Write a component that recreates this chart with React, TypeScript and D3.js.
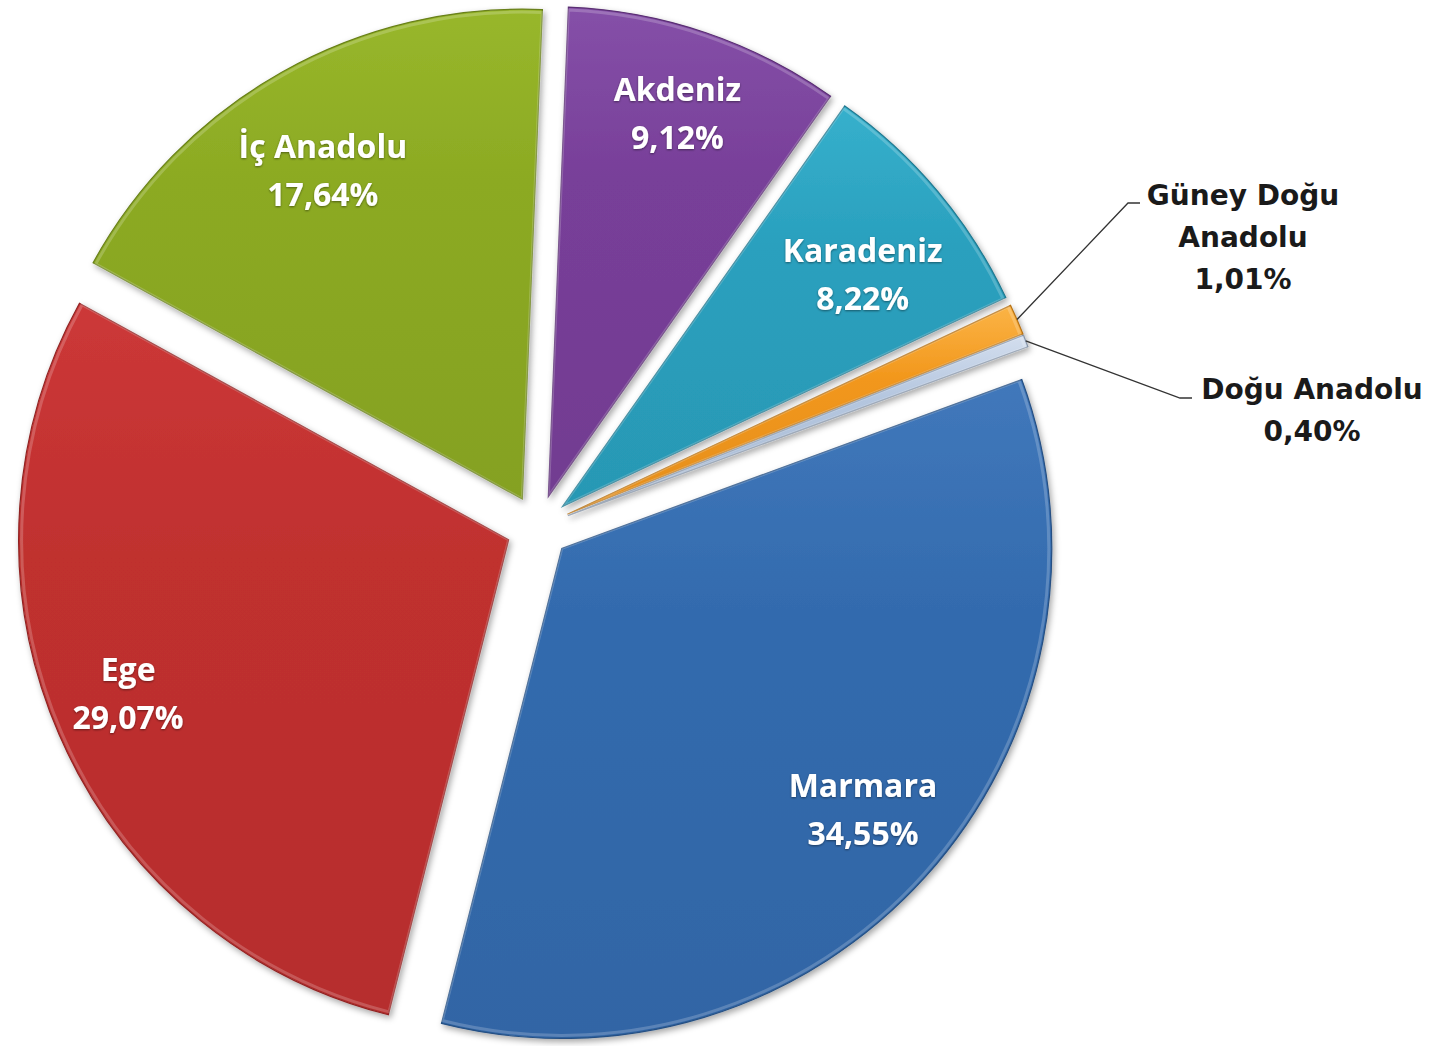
import React, { useEffect, useRef } from 'react';
import * as d3 from 'd3';

// regions, clockwise from 12 o'clock
const regions = ['Akdeniz', 'Karadeniz', 'Güney Doğu Anadolu', 'Doğu Anadolu', 'Marmara', 'Ege', 'İç Anadolu'];
const shares = [9.12, 8.22, 1.01, 0.4, 34.55, 29.07, 17.64];
const shareLabels = ['9,12%', '8,22%', '1,01%', '0,40%', '34,55%', '29,07%', '17,64%'];
const baseColors = ['#783f99', '#2aa0be', '#f2971c', '#b4c6df', '#336bae', '#c0302f', '#8caa23'];
const lightColors = ['#8550a8', '#36b0cc', '#fbb446', '#d3deee', '#4178bb', '#cc3838', '#98b72b'];

// outside labels for the thin slices
const outsideLines: Record<string, string[]> = {
  'Güney Doğu Anadolu': ['Güney Doğu', 'Anadolu', '1,01%'],
  'Doğu Anadolu': ['Doğu Anadolu', '0,40%'],
};

export default function App() {
  const ref = useRef<SVGSVGElement>(null);

  useEffect(() => {
    const svg = d3.select(ref.current);
    svg.selectAll('*').remove();

    const width = 1433;
    const height = 1046;
    const cx = 538;
    const cy = 527;
    const r = 490;
    const explode = 32;
    const start = (2.35 * Math.PI) / 180;

    svg.attr('width', width).attr('height', height);

    const defs = svg.append('defs');
    const shadow = defs.append('filter').attr('id', 'shadow')
      .attr('x', '-10%').attr('y', '-10%').attr('width', '120%').attr('height', '120%');
    shadow.append('feDropShadow')
      .attr('dx', 2).attr('dy', 3).attr('stdDeviation', 3)
      .attr('flood-color', '#000').attr('flood-opacity', 0.35);

    const txtShadow = defs.append('filter').attr('id', 'txtshadow');
    txtShadow.append('feDropShadow')
      .attr('dx', 0).attr('dy', 1).attr('stdDeviation', 1.2)
      .attr('flood-color', '#000').attr('flood-opacity', 0.45);

    baseColors.forEach((c, i) => {
      const g = defs.append('linearGradient').attr('id', `grad${i}`)
        .attr('x1', 0).attr('y1', 0).attr('x2', 0).attr('y2', 1);
      g.append('stop').attr('offset', '0%').attr('stop-color', lightColors[i]);
      g.append('stop').attr('offset', '35%').attr('stop-color', c);
      g.append('stop').attr('offset', '100%').attr('stop-color', d3.color(c)!.darker(0.15).toString());
    });

    const data = regions.map((name, i) => ({ name, value: shares[i], label: shareLabels[i], i }));

    const pie = d3.pie<typeof data[0]>()
      .sort(null)
      .value(d => d.value)
      .startAngle(start)
      .endAngle(start + 2 * Math.PI);

    const arcs = pie(data);
    const arc = d3.arc<d3.PieArcDatum<typeof data[0]>>().innerRadius(0).outerRadius(r);

    const offset = (a: d3.PieArcDatum<typeof data[0]>) => {
      const mid = (a.startAngle + a.endAngle) / 2;
      return [Math.sin(mid) * explode, -Math.cos(mid) * explode];
    };

    const root = svg.append('g').attr('transform', `translate(${cx},${cy})`);

    const slices = root.selectAll('g.slice')
      .data(arcs)
      .enter()
      .append('g')
      .attr('class', 'slice')
      .attr('transform', d => {
        const [ox, oy] = offset(d);
        return `translate(${ox},${oy})`;
      });

    slices.append('path')
      .attr('d', arc)
      .attr('fill', d => `url(#grad${d.data.i})`)
      .attr('stroke', d => d3.color(baseColors[d.data.i])!.darker(0.8).toString())
      .attr('stroke-width', 1.2)
      .attr('filter', 'url(#shadow)');

    // soft bevel highlight
    slices.append('path')
      .attr('d', d3.arc<d3.PieArcDatum<typeof data[0]>>().innerRadius(0).outerRadius(r - 3))
      .attr('fill', 'none')
      .attr('stroke', 'rgba(255,255,255,0.2)')
      .attr('stroke-width', 3);

    // inside labels (best-fit nudges, like the original chart)
    const labelR = r * 0.8;
    const nudge: Record<string, [number, number]> = {
      'Marmara': [10, -2],
      'Ege': [-21, -3],
      'İç Anadolu': [-7, 12],
      'Akdeniz': [3, -13],
      'Karadeniz': [0, 19],
    };
    slices.filter(d => !outsideLines[d.data.name])
      .each(function (d) {
        const mid = (d.startAngle + d.endAngle) / 2;
        const [nx, ny] = nudge[d.data.name] || [0, 0];
        const px = Math.sin(mid) * labelR + nx;
        const py = -Math.cos(mid) * labelR + ny;
        const t = d3.select(this).append('g').attr('filter', 'url(#txtshadow)');
        [d.data.name, d.data.label].forEach((s, k) => {
          t.append('text')
            .attr('x', px)
            .attr('y', py + (k === 0 ? -24 : 24))
            .attr('text-anchor', 'middle')
            .attr('dominant-baseline', 'central')
            .attr('fill', '#fff')
            .style('font-family', '"Open Sans", sans-serif')
            .style('font-weight', 700)
            .style('font-size', '32px')
            .text(s);
        });
      });

    // outside labels with leader lines
    const outsidePos: Record<string, { elbow: [number, number]; end: number; tx: number; ty: number }> = {
      'Güney Doğu Anadolu': { elbow: [1128, 203], end: 1140, tx: 1243, ty: 205 },
      'Doğu Anadolu': { elbow: [1180, 398], end: 1192, tx: 1312, ty: 399 },
    };

    arcs.filter(d => outsideLines[d.data.name]).forEach(d => {
      const [ox, oy] = offset(d);
      const mid = (d.startAngle + d.endAngle) / 2;
      const sx = cx + ox + Math.sin(mid) * r;
      const sy = cy + oy - Math.cos(mid) * r;
      const p = outsidePos[d.data.name];
      svg.append('path')
        .attr('d', d3.line()([[sx, sy], p.elbow, [p.end, p.elbow[1]]]))
        .attr('fill', 'none')
        .attr('stroke', '#333')
        .attr('stroke-width', 1.3);
      outsideLines[d.data.name].forEach((s, k) => {
        svg.append('text')
          .attr('x', p.tx)
          .attr('y', p.ty + k * 42)
          .attr('text-anchor', 'middle')
          .attr('fill', '#1a1a1a')
          .style('font-family', '"DejaVu Sans", sans-serif')
          .style('font-weight', 700)
          .style('font-size', '28px')
          .text(s);
      });
    });
  }, []);

  return (
    <svg
      ref={ref}
      style={{ position: 'absolute', left: 0, top: 0, background: '#fff' }}
      role="img"
      aria-label="Pie chart of shares by region"
    ></svg>
  );
}
